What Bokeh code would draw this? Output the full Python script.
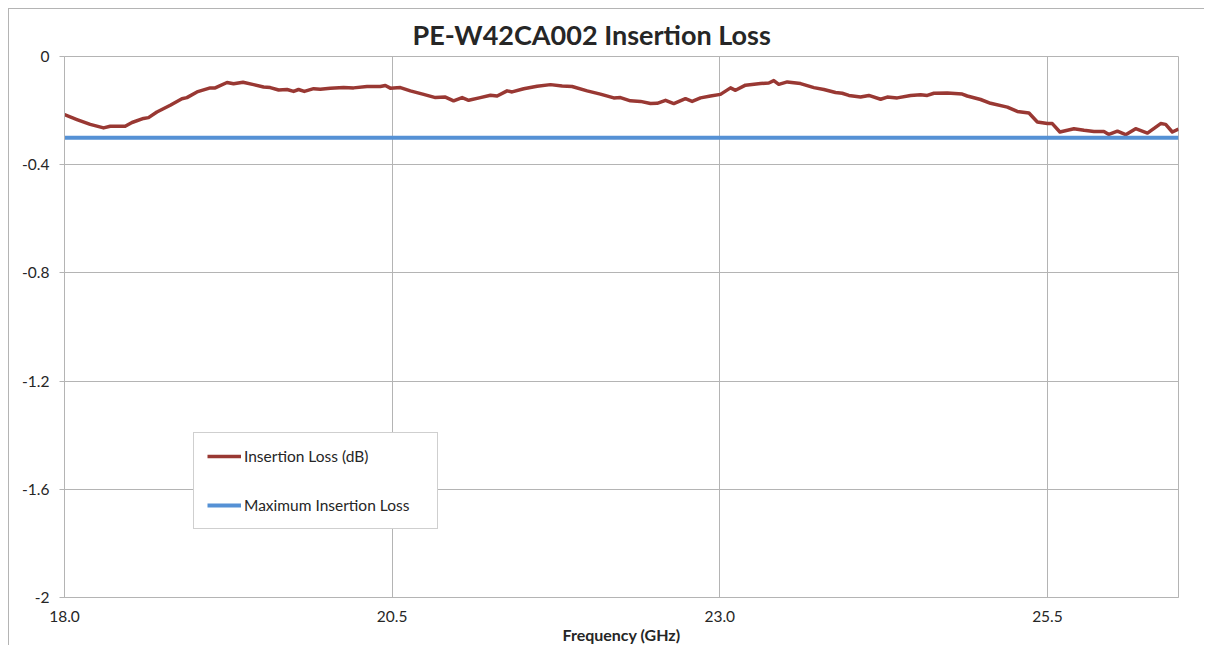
from bokeh.plotting import figure
from bokeh.models import Range1d, FixedTicker, PrintfTickFormatter, Legend, LegendItem
from bokeh.embed import file_html
from bokeh.resources import INLINE

# ---- data ----
freq_ghz = [18.000, 18.095, 18.196, 18.298, 18.349, 18.463, 18.515, 18.603, 18.641, 18.705,
            18.807, 18.896, 18.934, 19.011, 19.112, 19.150, 19.240, 19.290, 19.362, 19.443,
            19.519, 19.570, 19.634, 19.698, 19.748, 19.786, 19.830, 19.901, 19.952, 20.028,
            20.130, 20.206, 20.308, 20.410, 20.448, 20.486, 20.563, 20.639, 20.740, 20.830,
            20.906, 20.969, 21.034, 21.084, 21.173, 21.250, 21.301, 21.377, 21.415, 21.504,
            21.606, 21.708, 21.797, 21.873, 21.988, 22.089, 22.191, 22.242, 22.318, 22.395,
            22.471, 22.522, 22.586, 22.649, 22.738, 22.789, 22.853, 22.929, 23.005, 23.082,
            23.120, 23.196, 23.311, 23.374, 23.412, 23.450, 23.515, 23.616, 23.718, 23.794,
            23.883, 23.934, 23.985, 24.074, 24.137, 24.227, 24.278, 24.354, 24.456, 24.532,
            24.583, 24.634, 24.736, 24.850, 24.888, 24.990, 25.066, 25.194, 25.270, 25.359,
            25.423, 25.499, 25.537, 25.595, 25.702, 25.779, 25.855, 25.931, 25.969, 26.034,
            26.097, 26.173, 26.263, 26.364, 26.402, 26.453, 26.500]
insertion_loss_db = [-0.215, -0.233, -0.251, -0.264, -0.258, -0.258, -0.244, -0.229, -0.226, -0.205,
                     -0.180, -0.156, -0.152, -0.131, -0.116, -0.116, -0.096, -0.101, -0.095, -0.104,
                     -0.113, -0.115, -0.124, -0.122, -0.129, -0.122, -0.129, -0.119, -0.121, -0.117,
                     -0.115, -0.116, -0.111, -0.111, -0.107, -0.117, -0.115, -0.127, -0.140, -0.152,
                     -0.150, -0.164, -0.152, -0.162, -0.152, -0.143, -0.146, -0.127, -0.131, -0.119,
                     -0.110, -0.104, -0.109, -0.111, -0.127, -0.139, -0.153, -0.152, -0.164, -0.166,
                     -0.174, -0.173, -0.162, -0.174, -0.156, -0.166, -0.153, -0.146, -0.140, -0.116,
                     -0.125, -0.106, -0.100, -0.098, -0.089, -0.103, -0.094, -0.100, -0.115, -0.122,
                     -0.133, -0.136, -0.144, -0.150, -0.144, -0.158, -0.150, -0.153, -0.144, -0.141,
                     -0.144, -0.136, -0.135, -0.139, -0.146, -0.159, -0.173, -0.187, -0.203, -0.209,
                     -0.242, -0.248, -0.248, -0.279, -0.267, -0.273, -0.277, -0.277, -0.288, -0.276,
                     -0.289, -0.267, -0.283, -0.248, -0.251, -0.279, -0.268]
max_loss_db = -0.3
band_ghz = [18.0, 26.5]
x_ticks = [18.0, 20.5, 23.0, 25.5]
y_ticks = [-2, -1.6, -1.2, -0.8, -0.4, 0]

title_text = "PE-W42CA002 Insertion Loss"
x_title = "Frequency (GHz)"
series_names = ["Insertion Loss (dB)", "Maximum Insertion Loss"]

RED = "#993833"
BLUE = "#5591d5"
GRID = "#b4b4b4"
TEXT = "#262626"
FONT = "Lato"

p = figure(width=1196, height=637, output_backend="svg", toolbar_location=None,
           x_range=Range1d(18.0, 26.5), y_range=Range1d(-2, 0),
           min_border_left=55, min_border_right=27, min_border_top=47, min_border_bottom=49)
p.styles = {"margin-left": "8px", "margin-top": "8px",
            "border-left": "1px solid #b4b4b4", "border-top": "1px solid #b4b4b4"}

p.title.text = title_text
p.title.align = "left"
p.title.offset = 348
p.title.text_font = FONT
p.title.text_font_style = "bold"
p.title.text_font_size = "27px"
p.title.text_color = TEXT
p.title.standoff = 12

p.outline_line_color = GRID
p.outline_line_width = 1
p.background_fill_color = "white"
p.border_fill_color = "white"

for g in (p.xgrid, p.ygrid):
    g.grid_line_color = GRID
    g.grid_line_width = 1
p.xgrid.ticker = FixedTicker(ticks=x_ticks)
p.ygrid.ticker = FixedTicker(ticks=y_ticks)

xa = p.xaxis[0]
xa.ticker = FixedTicker(ticks=x_ticks)
xa.formatter = PrintfTickFormatter(format="%.1f")
xa.axis_label = x_title
xa.axis_label_text_font = FONT
xa.axis_label_text_font_style = "bold"
xa.axis_label_text_font_size = "16px"
xa.axis_label_text_color = TEXT
xa.axis_label_standoff = 0
xa.major_label_standoff = 13
xa.major_tick_out = 0
xa.major_tick_in = 0
xa.minor_tick_out = 0
xa.minor_tick_in = 0

ya = p.yaxis[0]
ya.ticker = FixedTicker(ticks=y_ticks)
ya.formatter = PrintfTickFormatter(format="%g")
ya.major_label_standoff = 10
ya.major_tick_out = 5
ya.major_tick_in = 0
ya.minor_tick_out = 0
ya.minor_tick_in = 0

for ax in (xa, ya):
    ax.axis_line_color = GRID
    ax.major_tick_line_color = GRID
    ax.major_label_text_font = FONT
    ax.major_label_text_font_size = "15.5px"
    ax.major_label_text_color = TEXT

r_loss = p.line(freq_ghz, insertion_loss_db, line_color=RED, line_width=3.5, line_join="round")
r_max = p.line(band_ghz, [max_loss_db, max_loss_db], line_color=BLUE, line_width=4)

legend = Legend(items=[LegendItem(label=series_names[0], renderers=[r_loss]),
                       LegendItem(label=series_names[1], renderers=[r_max])],
                location=(129, 68), margin=0, padding=13, spacing=29,
                glyph_width=34, glyph_height=20, label_height=20, label_width=180,
                label_standoff=3,
                label_text_font=FONT, label_text_font_size="15.5px", label_text_color=TEXT,
                border_line_color="#a0a0a0", border_line_width=1,
                background_fill_color="white", background_fill_alpha=1.0)
p.add_layout(legend, "center")

open("out.html", "w").write(file_html(p, INLINE))
